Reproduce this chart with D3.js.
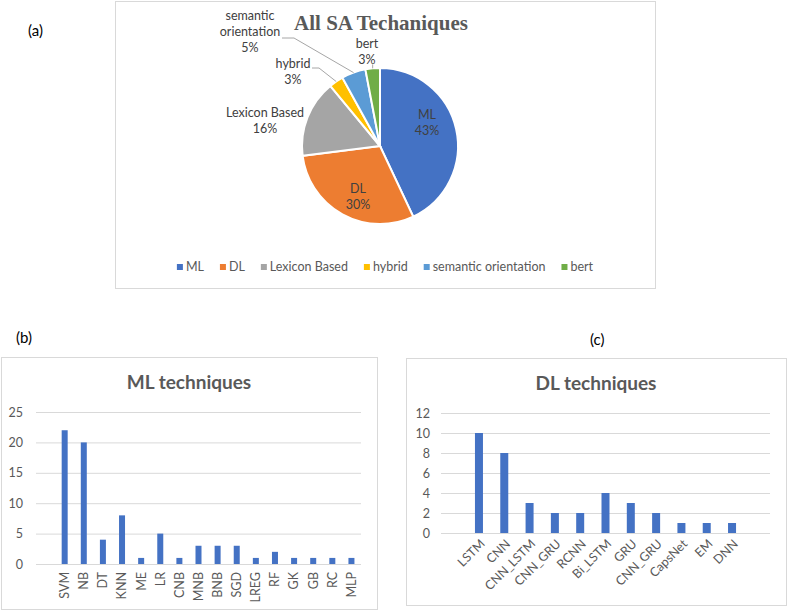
<!DOCTYPE html>
<html>
<head>
<meta charset="utf-8">
<script src="https://cdn.jsdelivr.net/npm/d3@7"></script>
<style>
  body { margin: 0; background: #fff; }
  svg { font-family: Lato, "Open Sans", sans-serif; }
</style>
</head>
<body>
<svg width="787" height="610"></svg>
<script>
// pie data (percent shares)
const saLabels = ["ML", "DL", "Lexicon Based", "hybrid", "semantic orientation", "bert"];
const saValues = [43, 30, 16, 3, 5, 3];
const saColors = ["#4472C4", "#ED7D31", "#A5A5A5", "#FFC000", "#5B9BD5", "#70AD47"];

// ML techniques counts
const mlCats = ["SVM", "NB", "DT", "KNN", "ME", "LR", "CNB", "MNB", "BNB", "SGD", "LREG", "RF", "GK", "GB", "RC", "MLP"];
const mlValues = [22, 20, 4, 8, 1, 5, 1, 3, 3, 3, 1, 2, 1, 1, 1, 1];
const mlTicks = [0, 5, 10, 15, 20, 25];

// DL techniques counts
const dlCats = ["LSTM", "CNN", "CNN_LSTM", "CNN_GRU", "RCNN", "Bi_LSTM", "GRU", "CNN_GRU ", "CapsNet", "EM", "DNN"];
const dlValues = [10, 8, 3, 2, 2, 4, 3, 2, 1, 1, 1];
const dlTicks = [0, 2, 4, 6, 8, 10, 12];

const svg = d3.select("svg");
const grey = "#595959", border = "#D9D9D9";

// panel letters
svg.append("text").attr("x", 28).attr("y", 36).text("(a)").style("font-size", "15px");
svg.append("text").attr("x", 16).attr("y", 343).text("(b)").style("font-size", "15px");
svg.append("text").attr("x", 590).attr("y", 345).text("(c)").style("font-size", "15px");

// ---------- (a) pie ----------
const pa = {x: 115, y: 1, w: 540, h: 287};
svg.append("rect").attr("x", pa.x + 0.5).attr("y", pa.y + 0.5).attr("width", pa.w).attr("height", pa.h)
  .attr("fill", "#fff").attr("stroke", border);

svg.append("text").attr("x", 381).attr("y", 30).attr("text-anchor", "middle")
  .style("font-family", "'Liberation Serif', serif").style("font-weight", "bold")
  .style("font-size", "21px").style("fill", grey).text("All SA Techaniques");

const cx = 380, cy = 146, r = 78;
const pieData = d3.pie().sort(null).value(d => d.v)(saLabels.map((l, i) => ({l, v: saValues[i], c: saColors[i]})));
const arc = d3.arc().innerRadius(0).outerRadius(r);
const pg = svg.append("g").attr("transform", `translate(${cx},${cy})`);
pg.selectAll("path").data(pieData).enter().append("path")
  .attr("d", arc).attr("fill", d => d.data.c).attr("stroke", "#fff").attr("stroke-width", 2);

// label positions relative to centre (Excel moved outer ones around)
const labelPos = {
  "ML": [47, -23], "DL": [-22, 51], "Lexicon Based": [-115, -25],
  "hybrid": [-87, -74], "semantic orientation": [-130, -114], "bert": [-13, -94]
};
const labelLines = {
  "ML": ["ML", "43%"], "DL": ["DL", "30%"], "Lexicon Based": ["Lexicon Based", "16%"],
  "hybrid": ["hybrid", "3%"], "semantic orientation": ["semantic", "orientation", "5%"], "bert": ["bert", "3%"]
};
// leader lines from label to slice edge
const edge = d => { const a = (d.startAngle + d.endAngle) / 2; return [r * Math.sin(a), -r * Math.cos(a)]; };
pieData.forEach(d => {
  const e = edge(d);
  let pts = null;
  if (d.data.l === "semantic orientation") pts = [[-98, -108], [-86, -108], e];
  if (d.data.l === "hybrid") pts = [[-68, -78], [-61, -78], e];
  if (d.data.l === "bert") pts = [[e[0], e[1] - 4], e];
  if (pts) pg.append("path").attr("d", d3.line()(pts)).attr("fill", "none").attr("stroke", "#A6A6A6").attr("stroke-width", 1);
});
pieData.forEach(d => {
  const p = labelPos[d.data.l], lines = labelLines[d.data.l];
  const t = pg.append("text").attr("text-anchor", "middle").style("font-size", "12.5px").style("fill", "#404040");
  lines.forEach((s, i) => {
    t.append("tspan").attr("x", p[0]).attr("y", p[1] + (i - (lines.length - 1) / 2) * 16 + 4).text(s);
  });
});

// legend
const lg = svg.append("g");
let lx = 0;
saLabels.forEach((l, i) => {
  const g = lg.append("g").attr("transform", `translate(${lx},0)`);
  g.append("rect").attr("x", 0).attr("y", -3).attr("width", 6).attr("height", 6).attr("fill", saColors[i]);
  const t = g.append("text").attr("x", 9).attr("y", 4).style("font-size", "12.5px").style("fill", grey).text(l);
  lx += 9 + t.node().getComputedTextLength() + 16;
});
lg.attr("transform", `translate(${385 - (lx - 16) / 2},267)`);

// ---------- bar chart helper ----------
function barPanel(o) {
  svg.append("rect").attr("x", o.box[0] + 0.5).attr("y", o.box[1] + 0.5)
    .attr("width", o.box[2] - o.box[0]).attr("height", o.box[3] - o.box[1])
    .attr("fill", "#fff").attr("stroke", border);
  svg.append("text").attr("x", (o.box[0] + o.box[2]) / 2).attr("y", o.titleY).attr("text-anchor", "middle")
    .style("font-size", "19px").style("font-weight", "bold").style("fill", grey).text(o.title);

  const x = d3.scaleBand().domain(o.domain).range([o.x0, o.x1]);
  const y = d3.scaleLinear().domain([0, d3.max(o.ticks)]).range([o.y0, o.y1]);
  const g = svg.append("g");
  g.append("g").attr("transform", `translate(${o.x0},0)`)
    .call(d3.axisLeft(y).tickValues(o.ticks).tickSize(-(o.x1 - o.x0)).tickPadding(o.pad))
    .call(a => a.select(".domain").remove())
    .call(a => a.selectAll("line").attr("stroke", border))
    .call(a => a.selectAll("text").style("font-size", "12.5px").style("fill", grey).style("font-family", "Lato, sans-serif"));

  g.selectAll("rect.bar").data(o.cats).enter().append("rect")
    .attr("x", (d, i) => x(d) + (x.bandwidth() - o.barW) / 2)
    .attr("y", (d, i) => y(o.values[i]))
    .attr("width", o.barW)
    .attr("height", (d, i) => y(0) - y(o.values[i]))
    .attr("fill", "#4472C4");

  g.selectAll("text.cat").data(o.cats).enter().append("text")
    .attr("transform", d => `translate(${x(d) + x.bandwidth() / 2 + o.lblDx},${o.lblY}) rotate(${o.rot})`)
    .attr("text-anchor", "end").attr("dy", o.rot === -90 ? "0.35em" : "0.3em")
    .style("font-size", "12.5px").style("fill", grey).text(d => d.trim());
}

barPanel({
  box: [1, 357, 377, 609], title: "ML techniques", titleY: 389,
  domain: [""].concat(mlCats), cats: mlCats, values: mlValues, ticks: mlTicks,
  x0: 36, x1: 361, y0: 564, y1: 412, pad: 13, barW: 6, lblY: 572, lblDx: 0, rot: -90
});
barPanel({
  box: [406, 358, 786, 605], title: "DL techniques", titleY: 390,
  domain: [" a"].concat(dlCats, [" b"]), cats: dlCats, values: dlValues, ticks: dlTicks,
  x0: 441, x1: 770, y0: 533, y1: 413, pad: 11, barW: 8, lblY: 542, lblDx: 4, rot: -45
});
</script>
</body>
</html>
